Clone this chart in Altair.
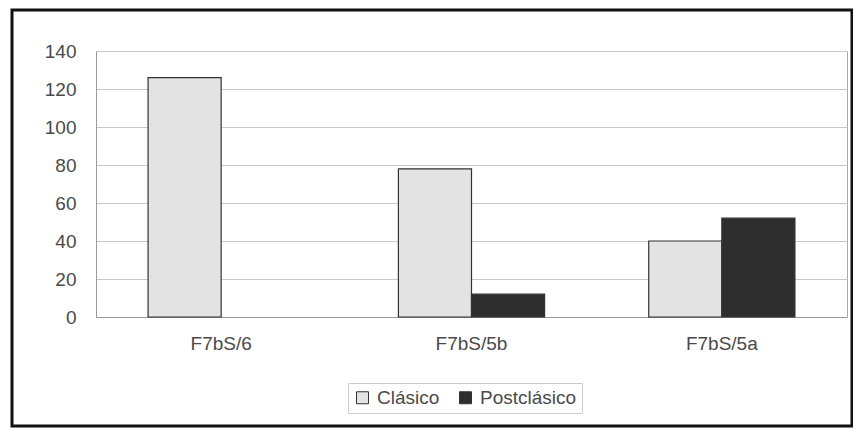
import altair as alt
import pandas as pd

categories = ["F7bS/6", "F7bS/5b", "F7bS/5a"]
series = ["Clásico", "Postclásico"]
clasico = [126, 78, 40]
postclasico = [0, 12, 52]
y_ticks = [0, 20, 40, 60, 80, 100, 120, 140]

rows = []
for c, a, b in zip(categories, clasico, postclasico):
    rows.append({"cat": c, "serie": series[0], "valor": a})
    rows.append({"cat": c, "serie": series[1], "valor": b})
df = pd.DataFrame(rows)

FONT = "Liberation Sans"
TXT = "#4a4a4a"

bars = alt.Chart(df).mark_bar(stroke="#333333", strokeWidth=1.2).encode(
    x=alt.X("cat:N", sort=categories, title=None,
            scale=alt.Scale(paddingInner=0.416, paddingOuter=0.208),
            axis=alt.Axis(labelAngle=0, ticks=False, labelPadding=17,
                          labelFontSize=19, labelColor=TXT, labelFont=FONT,
                          domainColor="#999999", grid=False)),
    xOffset=alt.XOffset("serie:N", sort=series, scale=alt.Scale(paddingInner=0, paddingOuter=0)),
    y=alt.Y("valor:Q", title=None,
            scale=alt.Scale(domain=[0, 140], nice=False),
            axis=alt.Axis(values=y_ticks, ticks=False, labelPadding=20,
                          labelFontSize=19, labelColor=TXT, labelFont=FONT,
                          domainColor="#999999", gridColor="#c8c8c8")),
    color=alt.Color("serie:N", sort=series,
                    scale=alt.Scale(domain=series, range=["#e3e3e3", "#2e2e2e"]),
                    legend=alt.Legend(title=None, orient="none", direction="horizontal",
                                      legendX=252, legendY=332,
                                      symbolType="square", symbolSize=144,
                                      symbolStrokeColor="#333333", symbolStrokeWidth=1,
                                      labelFontSize=19, labelColor=TXT, labelFont=FONT,
                                      strokeColor="#cccccc", padding=5,
                                      columnPadding=16, labelOffset=5)),
    strokeOpacity=alt.condition(alt.datum.valor == 0, alt.value(0), alt.value(1)),
)

frame = alt.Chart(alt.Data(values=[{}])).mark_rect(
    fill=None, stroke="#111111", strokeWidth=3
).encode(
    x=alt.value(-84), x2=alt.value(756),
    y=alt.value(-41), y2=alt.value(375),
)

chart = alt.layer(bars, frame).properties(
    width=751, height=266,
    autosize=alt.AutoSizeParams(type="none"),
    padding={"left": 88, "top": 43, "right": 6, "bottom": 111},
    background="white",
).configure_view(stroke="#aaaaaa")

chart.save("out.html", embed_options={"renderer": "svg", "actions": False})
